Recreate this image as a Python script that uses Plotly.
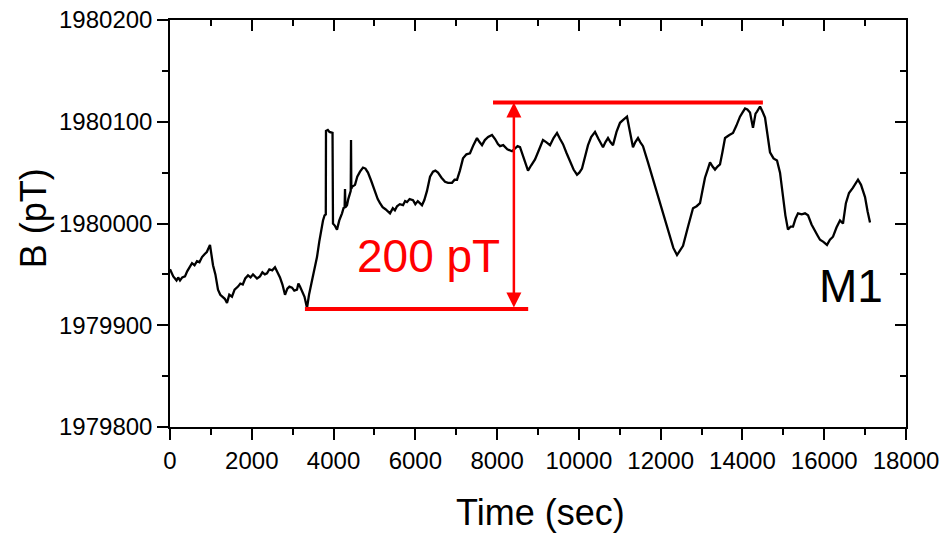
import plotly.graph_objects as go

# ---- data ----
time_s = [0, 40, 80, 122, 160, 200, 245, 300, 367, 420, 480, 538, 600, 660, 720, 783, 850, 900, 978,
          1010, 1052, 1110, 1174, 1230, 1290, 1340, 1394, 1450, 1516, 1580, 1663, 1720, 1780, 1840, 1908,
          1970, 2030, 2080, 2128, 2200, 2260, 2320, 2372, 2430, 2500, 2568, 2620, 2690, 2750, 2813, 2870,
          2920, 2984, 3040, 3106, 3140, 3179, 3230, 3290, 3351, 3400, 3473, 3530, 3595, 3650, 3700, 3742,
          3780, 3810, 3815, 3860, 3900, 3950, 3975, 3986, 4030, 4084, 4140, 4207, 4250, 4270, 4280, 4290,
          4329, 4360, 4402, 4420, 4427, 4435, 4451, 4525, 4580, 4647, 4720, 4780, 4842, 4920, 5014, 5080,
          5136, 5200, 5270, 5330, 5381, 5450, 5500, 5552, 5620, 5700, 5750, 5796, 5860, 5943, 6000, 6060,
          6120, 6163, 6220, 6285, 6360, 6432, 6490, 6554, 6640, 6726, 6800, 6897, 6960, 7019, 7090, 7166,
          7250, 7337, 7420, 7508, 7570, 7631, 7700, 7780, 7875, 7950, 8020, 8071, 8150, 8250, 8364, 8440,
          8500, 8560, 8620, 8690, 8756, 8830, 8927, 9020, 9122, 9200, 9294, 9380, 9465, 9540, 9612, 9700,
          9783, 9870, 9954, 10010, 10076, 10150, 10223, 10300, 10394, 10480, 10590, 10650, 10712, 10770,
          10834, 10920, 11006, 11090, 11177, 11250, 11323, 11380, 11446, 11500, 11568, 11690, 11813, 11920,
          12033, 12130, 12229, 12310, 12400, 12470, 12547, 12670, 12791, 12880, 12962, 13020, 13084, 13150,
          13207, 13270, 13329, 13390, 13451, 13510, 13574, 13680, 13769, 13850, 13940, 14000, 14063, 14120,
          14185, 14258, 14320, 14356, 14430, 14490, 14552, 14610, 14674, 14760, 14845, 14919, 14980, 15050,
          15114, 15180, 15237, 15300, 15359, 15450, 15530, 15604, 15690, 15775, 15840, 15897, 15980, 16068,
          16140, 16215, 16300, 16386, 16459, 16530, 16606, 16700, 16826, 16900, 16998, 17060, 17120]

field_pT = [1979955, 1979951, 1979948, 1979946, 1979944, 1979947, 1979944, 1979947, 1979948, 1979953,
            1979957, 1979961, 1979959, 1979963, 1979962, 1979967, 1979970, 1979972, 1979979, 1979970,
            1979959, 1979950, 1979935, 1979930, 1979928, 1979926, 1979922, 1979930, 1979928, 1979935,
            1979938, 1979941, 1979940, 1979946, 1979949, 1979947, 1979950, 1979948, 1979946, 1979948,
            1979952, 1979950, 1979951, 1979955, 1979954, 1979957, 1979953, 1979947, 1979940, 1979930,
            1979936, 1979938, 1979937, 1979934, 1979935, 1979941, 1979938, 1979934, 1979928, 1979917,
            1979930, 1979944, 1979955, 1979967, 1979982, 1979994, 1980003, 1980008, 1980009, 1980091,
            1980092, 1980090, 1980089, 1980089, 1980000, 1979998, 1979994, 1980003, 1980010, 1980016,
            1980015, 1980034, 1980016, 1980018, 1980024, 1980030, 1980032, 1980082, 1980034, 1980036,
            1980038, 1980046, 1980051, 1980055, 1980054, 1980050, 1980042, 1980031, 1980024, 1980020,
            1980016, 1980014, 1980012, 1980010, 1980015, 1980013, 1980017, 1980019, 1980018, 1980022,
            1980021, 1980024, 1980023, 1980019, 1980022, 1980020, 1980018, 1980023, 1980032, 1980046,
            1980051, 1980052, 1980050, 1980045, 1980041, 1980040, 1980040, 1980043, 1980043, 1980052,
            1980064, 1980068, 1980069, 1980077, 1980084, 1980080, 1980077, 1980082, 1980085, 1980087,
            1980083, 1980078, 1980076, 1980077, 1980073, 1980071, 1980074, 1980076, 1980075, 1980068,
            1980058, 1980052, 1980057, 1980063, 1980072, 1980082, 1980080, 1980077, 1980084, 1980089,
            1980083, 1980078, 1980069, 1980062, 1980053, 1980048, 1980050, 1980054, 1980066, 1980077,
            1980085, 1980090, 1980083, 1980075, 1980080, 1980084, 1980080, 1980077, 1980090, 1980099,
            1980102, 1980105, 1980090, 1980075, 1980080, 1980084, 1980080, 1980076, 1980060, 1980043,
            1980028, 1980013, 1980000, 1979987, 1979976, 1979969, 1979974, 1979978, 1979997, 1980015,
            1980017, 1980020, 1980032, 1980045, 1980053, 1980060, 1980056, 1980053, 1980056, 1980058,
            1980070, 1980084, 1980087, 1980089, 1980096, 1980105, 1980109, 1980113, 1980112, 1980109,
            1980094, 1980108, 1980110, 1980115, 1980110, 1980104, 1980088, 1980070, 1980064, 1980062,
            1980050, 1980030, 1980008, 1979994, 1979997, 1979997, 1980005, 1980010, 1980009, 1980010,
            1980008, 1979999, 1979992, 1979988, 1979984, 1979982, 1979979, 1979984, 1979987, 1979996,
            1980003, 1980000, 1980020, 1980030, 1980035, 1980043, 1980038, 1980026, 1980012, 1980001]

x_ticks = [0, 2000, 4000, 6000, 8000, 10000, 12000, 14000, 16000, 18000]
y_ticks = [1979800, 1979900, 1980000, 1980100, 1980200]

# red range-marker values
low_level = 1979916
low_t = [3300, 8760]
high_level = 1980119
high_t = [7900, 14500]
arrow_t = 8410
range_label = "200 pT"
sensor_label = "M1"

FONT = "Liberation Sans, Arial, sans-serif"

fig = go.Figure()
fig.add_trace(go.Scatter(x=time_s, y=field_pT, mode="lines",
                         line=dict(color="black", width=2.3), showlegend=False,
                         hoverinfo="skip"))
# invisible trace for the mirrored (top/right) axes
fig.add_trace(go.Scatter(x=[x_ticks[0]], y=[y_ticks[0]], xaxis="x2", yaxis="y2",
                         mode="markers", marker=dict(opacity=0), showlegend=False,
                         hoverinfo="skip"))

# red horizontal lines
fig.add_trace(go.Scatter(x=low_t, y=[low_level, low_level], mode="lines",
                         line=dict(color="#ff0000", width=4), showlegend=False, hoverinfo="skip"))
fig.add_trace(go.Scatter(x=high_t, y=[high_level, high_level], mode="lines",
                         line=dict(color="#ff0000", width=4), showlegend=False, hoverinfo="skip"))

xr = [x_ticks[0], x_ticks[-1]]
yr = [y_ticks[0], y_ticks[-1]]

common = dict(showline=True, linecolor="black", linewidth=1.5, showgrid=False, zeroline=False,
              tickcolor="black", tickwidth=1.5, automargin=False)

fig.update_layout(
    width=943, height=537,
    margin=dict(l=170, r=37, t=20, b=110),
    paper_bgcolor="white", plot_bgcolor="white",
    font=dict(family=FONT, color="black"),
    xaxis=dict(range=xr, tickvals=x_ticks, tickformat="d", ticks="outside", ticklen=11,
               tickfont=dict(size=24, family=FONT),
               minor=dict(dtick=1000, ticks="outside", ticklen=6, tickcolor="black", tickwidth=1.5),
               **common),
    yaxis=dict(range=yr, tickvals=y_ticks, tickformat="d", ticks="outside", ticklen=11,
               tickfont=dict(size=24, family=FONT),
               minor=dict(dtick=50, ticks="outside", ticklen=6, tickcolor="black", tickwidth=1.5),
               **common),
    xaxis2=dict(range=xr, overlaying="x", side="top", tickvals=x_ticks, ticks="inside",
                ticklen=11, showticklabels=False,
                minor=dict(dtick=1000, ticks="inside", ticklen=6, tickcolor="black", tickwidth=1.5),
                **common),
    yaxis2=dict(range=yr, overlaying="y", side="right", tickvals=y_ticks, ticks="inside",
                ticklen=11, showticklabels=False,
                minor=dict(dtick=50, ticks="inside", ticklen=6, tickcolor="black", tickwidth=1.5),
                **common),
)

annotations = [
    dict(text="Time (sec)", xref="paper", yref="paper", x=0.503, y=-0.209,
         xanchor="center", yanchor="middle", showarrow=False, font=dict(size=36, family=FONT)),
    dict(text="B (pT)", xref="paper", yref="paper", x=-0.186, y=0.513, textangle=-90,
         xanchor="center", yanchor="middle", showarrow=False, font=dict(size=36, family=FONT)),
    dict(text=sensor_label, x=16655, y=1979939, xref="x", yref="y", showarrow=False,
         xanchor="center", yanchor="middle", font=dict(size=46, family=FONT)),
    dict(text=range_label, x=6310, y=1979968, xref="x", yref="y", showarrow=False,
         xanchor="center", yanchor="middle", font=dict(size=46, family=FONT, color="#ff0000")),
    # double-headed arrow
    dict(x=arrow_t, y=high_level, ax=arrow_t, ay=low_level, xref="x", yref="y",
         axref="x", ayref="y", text="", showarrow=True, arrowhead=2, arrowside="end+start",
         arrowsize=1.2, arrowwidth=2.5, arrowcolor="#ff0000", standoff=0, startstandoff=0),
]
fig.update_layout(annotations=annotations)

fig.write_html("out.html")
